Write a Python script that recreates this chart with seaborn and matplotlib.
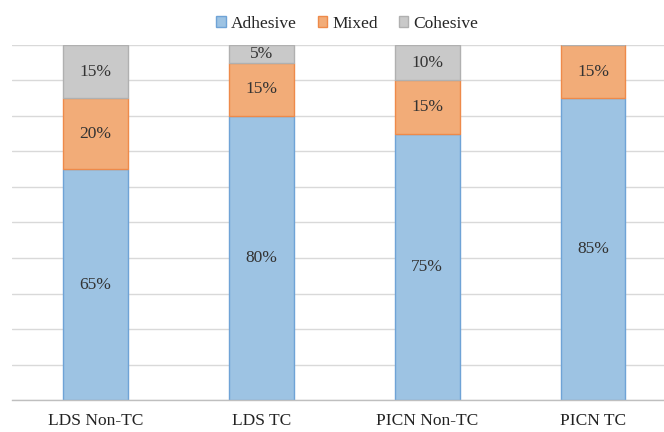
# Failure mode distribution per group (stacked 100% bars)
import numpy as np
import pandas as pd
import seaborn as sns
import matplotlib.pyplot as plt

sns.set_style('white')
plt.rcParams['font.family'] = ['Liberation Serif', 'DejaVu Serif']

groups = ['LDS Non-TC', 'LDS TC', 'PICN Non-TC', 'PICN TC']
adhesive = [65, 80, 75, 85]
mixed = [20, 15, 15, 15]
cohesive = [15, 5, 10, 0]

series = ['Adhesive', 'Mixed', 'Cohesive']
fills = ['#9dc3e3', '#f2ac78', '#c9c9c9']
edges = ['#6fa3d6', '#ee8a4a', '#b0b0b0']

fig = plt.figure(figsize=(6.64, 4.32), dpi=100)
ax = fig.add_axes([0.018, 0.074, 1.0, 0.822])

bottom = np.zeros(len(groups))
for name, vals, fc, ec in zip(series, [adhesive, mixed, cohesive], fills, edges):
    df = pd.DataFrame({'group': groups, 'value': vals})
    sns.barplot(data=df, x='group', y='value', ax=ax, color=fc, width=0.39,
                bottom=bottom, edgecolor=ec, linewidth=1.0, label=name,
                saturation=1, legend=False)
    for i, v in enumerate(vals):
        if v > 0:
            ax.text(i, bottom[i] + v / 2, f'{v}%', ha='center', va='center',
                    fontsize=12.5, color='#333333')
    bottom = bottom + np.array(vals)

ax.set_ylim(0, 100)
ax.set_xlim(-0.504, 3.50)
ax.set_yticks(np.arange(0, 101, 10))
ax.set_yticklabels([])
ax.tick_params(axis='y', length=0)
ax.tick_params(axis='x', length=0, labelsize=12.5, pad=9, colors='#222222')
ax.yaxis.grid(True, color='#d9d9d9', linewidth=1)
ax.set_axisbelow(True)
ax.set_xlabel('')
ax.set_ylabel('')
for s in ['top', 'right', 'left']:
    ax.spines[s].set_visible(False)
ax.spines['bottom'].set_color('#bfbfbf')
ax.spines['bottom'].set_linewidth(1)

handles, labels = ax.get_legend_handles_labels()
if ax.get_legend() is not None:
    ax.get_legend().remove()
fig.legend(handles, labels, loc='upper center', bbox_to_anchor=(0.523, 1.0),
           ncol=3, frameon=False, fontsize=12.5, handlelength=0.55,
           handleheight=0.55, handletextpad=0.3, columnspacing=1.2)

fig.savefig('out.png', dpi=100)
